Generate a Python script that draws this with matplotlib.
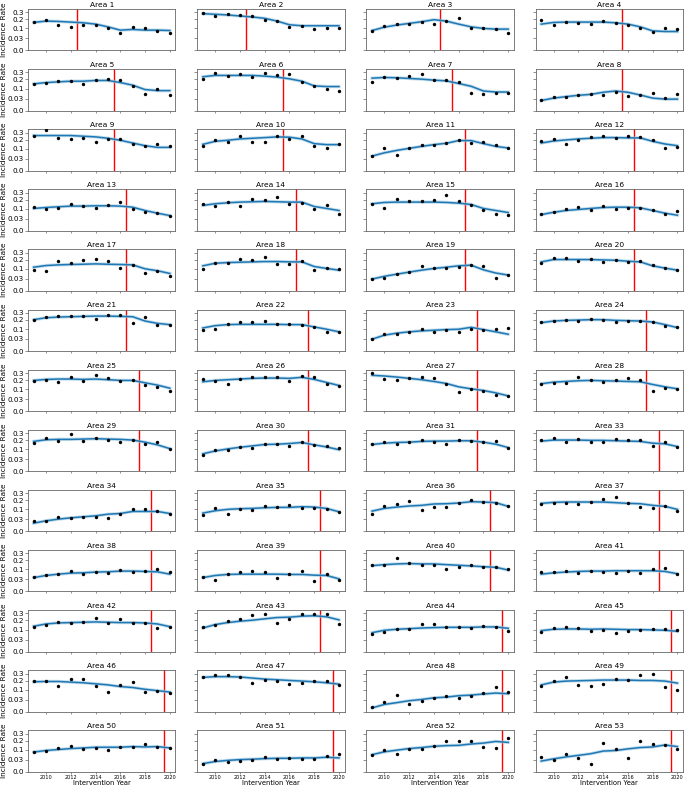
import numpy as np
import matplotlib
matplotlib.use("Agg")
import matplotlib.pyplot as plt

years = [2009, 2010, 2011, 2012, 2013, 2014, 2015, 2016, 2017, 2018, 2019, 2020]
area_ids = [1, 2, 3, 4, 5, 6, 7, 8, 9, 10, 11, 12, 13, 14, 15, 16, 17, 18, 19, 20,
            21, 22, 23, 24, 25, 26, 27, 28, 29, 30, 31, 33, 34, 35, 36, 37, 38, 39, 40, 41,
            42, 43, 44, 45, 46, 47, 48, 49, 50, 51, 52, 53]
intervention_years = [2012.5, 2012.5, 2014.5, 2015.5, 2015.5, 2015.5, 2015.5, 2015.5,
                      2015.5, 2015.5, 2016.5, 2016.5, 2016.5, 2016.5, 2016.5, 2016.5,
                      2016.5, 2016.5, 2016.5, 2016.5, 2016.5, 2017.5, 2017.5, 2017.5,
                      2017.5, 2017.5, 2017.5, 2017.5, 2017.5, 2017.5, 2017.5, 2018.5,
                      2018.5, 2018.5, 2018.5, 2018.5, 2018.5, 2018.5, 2018.5, 2018.5,
                      2018.5, 2018.5, 2019.5, 2019.5, 2019.5, 2019.5, 2019.5, 2019.5,
                      2019.5, 2019.5, 2019.5, 2019.5]
ytick_values = [0.0, 0.03, 0.1, 0.2, 0.3]
ytick_labels = ["0.0", "0.03", "0.1", "0.2", "0.3"]
xtick_values = [2010, 2012, 2014, 2016, 2018, 2020]

area01_obs = [0.162, 0.195, 0.139, 0.109, 0.129, 0.132, 0.105, 0.064, 0.115, 0.105, 0.082, 0.066]
area01_fit = [0.162, 0.178, 0.174, 0.166, 0.158, 0.143, 0.115, 0.085, 0.091, 0.085, 0.085, 0.082]
area02_obs = [0.290, 0.245, 0.275, 0.260, 0.245, 0.191, 0.174, 0.115, 0.122, 0.097, 0.106, 0.103]
area02_fit = [0.280, 0.270, 0.260, 0.245, 0.231, 0.213, 0.178, 0.136, 0.126, 0.126, 0.126, 0.126]
area03_obs = [0.082, 0.119, 0.140, 0.143, 0.170, 0.143, 0.174, 0.213, 0.106, 0.106, 0.097, 0.066]
area03_fit = [0.082, 0.112, 0.133, 0.151, 0.170, 0.195, 0.178, 0.143, 0.115, 0.100, 0.094, 0.094]
area04_obs = [0.191, 0.129, 0.170, 0.151, 0.147, 0.174, 0.158, 0.129, 0.106, 0.071, 0.103, 0.091]
area04_fit = [0.143, 0.162, 0.166, 0.166, 0.166, 0.166, 0.158, 0.143, 0.115, 0.079, 0.074, 0.074]
area05_obs = [0.147, 0.162, 0.178, 0.182, 0.151, 0.191, 0.204, 0.195, 0.129, 0.059, 0.097, 0.052]
area05_fit = [0.147, 0.162, 0.170, 0.178, 0.178, 0.187, 0.187, 0.162, 0.133, 0.091, 0.082, 0.082]
area06_obs = [0.204, 0.285, 0.245, 0.270, 0.236, 0.296, 0.260, 0.275, 0.166, 0.122, 0.094, 0.079]
area06_fit = [0.236, 0.255, 0.255, 0.255, 0.255, 0.245, 0.231, 0.208, 0.178, 0.126, 0.119, 0.119]
area07_obs = [0.170, 0.226, 0.222, 0.250, 0.270, 0.191, 0.187, 0.170, 0.066, 0.059, 0.066, 0.064]
area07_fit = [0.217, 0.226, 0.222, 0.213, 0.204, 0.191, 0.182, 0.151, 0.122, 0.079, 0.071, 0.071]
area08_obs = [0.021, 0.040, 0.036, 0.052, 0.057, 0.052, 0.069, 0.046, 0.050, 0.061, 0.034, 0.054]
area08_fit = [0.021, 0.032, 0.040, 0.048, 0.054, 0.069, 0.079, 0.069, 0.050, 0.032, 0.027, 0.027]
area09_obs = [0.250, 0.339, 0.217, 0.208, 0.222, 0.166, 0.213, 0.204, 0.151, 0.122, 0.143, 0.126]
area09_fit = [0.255, 0.255, 0.255, 0.255, 0.245, 0.236, 0.217, 0.191, 0.158, 0.129, 0.112, 0.112]
area10_obs = [0.129, 0.195, 0.174, 0.255, 0.174, 0.174, 0.245, 0.213, 0.250, 0.122, 0.103, 0.143]
area10_fit = [0.143, 0.178, 0.191, 0.208, 0.217, 0.226, 0.236, 0.231, 0.208, 0.151, 0.140, 0.140]
area11_obs = [0.044, 0.106, 0.048, 0.106, 0.133, 0.140, 0.155, 0.195, 0.158, 0.170, 0.136, 0.106]
area11_fit = [0.044, 0.066, 0.085, 0.103, 0.122, 0.140, 0.155, 0.187, 0.187, 0.151, 0.122, 0.106]
area12_obs = [0.178, 0.204, 0.147, 0.195, 0.240, 0.255, 0.226, 0.255, 0.236, 0.199, 0.106, 0.112]
area12_fit = [0.158, 0.182, 0.195, 0.208, 0.217, 0.226, 0.226, 0.222, 0.222, 0.178, 0.147, 0.129]
area13_obs = [0.115, 0.100, 0.112, 0.151, 0.122, 0.106, 0.140, 0.166, 0.100, 0.071, 0.069, 0.046]
area13_fit = [0.103, 0.112, 0.119, 0.126, 0.126, 0.129, 0.129, 0.126, 0.115, 0.085, 0.064, 0.048]
area14_obs = [0.143, 0.129, 0.170, 0.122, 0.208, 0.199, 0.236, 0.147, 0.162, 0.100, 0.133, 0.059]
area14_fit = [0.133, 0.151, 0.162, 0.170, 0.174, 0.178, 0.174, 0.170, 0.170, 0.122, 0.103, 0.085]
area15_obs = [0.151, 0.106, 0.213, 0.178, 0.187, 0.191, 0.265, 0.178, 0.136, 0.091, 0.059, 0.054]
area15_fit = [0.151, 0.166, 0.170, 0.170, 0.170, 0.170, 0.166, 0.158, 0.143, 0.103, 0.085, 0.069]
area16_obs = [0.057, 0.074, 0.100, 0.115, 0.091, 0.122, 0.097, 0.103, 0.109, 0.091, 0.059, 0.085]
area16_fit = [0.054, 0.071, 0.085, 0.094, 0.103, 0.112, 0.115, 0.115, 0.109, 0.085, 0.064, 0.050]
area17_obs = [0.092, 0.081, 0.182, 0.162, 0.203, 0.211, 0.186, 0.113, 0.140, 0.066, 0.081, 0.048]
area17_fit = [0.116, 0.133, 0.140, 0.144, 0.147, 0.151, 0.147, 0.144, 0.140, 0.101, 0.084, 0.063]
area18_obs = [0.098, 0.162, 0.166, 0.216, 0.198, 0.234, 0.155, 0.147, 0.182, 0.089, 0.107, 0.098]
area18_fit = [0.130, 0.158, 0.166, 0.170, 0.174, 0.178, 0.178, 0.174, 0.174, 0.123, 0.104, 0.089]
area19_obs = [0.029, 0.032, 0.061, 0.073, 0.130, 0.107, 0.107, 0.123, 0.144, 0.130, 0.036, 0.052]
area19_fit = [0.029, 0.044, 0.058, 0.073, 0.089, 0.104, 0.116, 0.130, 0.137, 0.092, 0.066, 0.052]
area20_obs = [0.166, 0.220, 0.220, 0.186, 0.216, 0.170, 0.198, 0.170, 0.182, 0.137, 0.107, 0.089]
area20_fit = [0.174, 0.203, 0.203, 0.203, 0.203, 0.198, 0.194, 0.182, 0.174, 0.130, 0.107, 0.089]
area21_obs = [0.203, 0.243, 0.252, 0.248, 0.252, 0.216, 0.272, 0.267, 0.166, 0.243, 0.140, 0.140]
area21_fit = [0.203, 0.229, 0.238, 0.243, 0.248, 0.252, 0.252, 0.248, 0.243, 0.186, 0.158, 0.144]
area22_obs = [0.089, 0.104, 0.151, 0.170, 0.170, 0.190, 0.151, 0.147, 0.137, 0.116, 0.073, 0.076]
area22_fit = [0.110, 0.133, 0.144, 0.147, 0.147, 0.147, 0.147, 0.144, 0.144, 0.120, 0.098, 0.076]
area23_obs = [0.028, 0.063, 0.063, 0.078, 0.104, 0.078, 0.095, 0.078, 0.098, 0.089, 0.098, 0.107]
area23_fit = [0.029, 0.052, 0.066, 0.076, 0.084, 0.089, 0.095, 0.098, 0.116, 0.095, 0.076, 0.058]
area24_obs = [0.174, 0.190, 0.198, 0.182, 0.216, 0.198, 0.170, 0.182, 0.182, 0.170, 0.126, 0.120]
area24_fit = [0.166, 0.186, 0.194, 0.198, 0.203, 0.203, 0.194, 0.190, 0.186, 0.174, 0.144, 0.113]
area25_obs = [0.191, 0.204, 0.174, 0.236, 0.191, 0.275, 0.222, 0.187, 0.199, 0.140, 0.122, 0.088]
area25_fit = [0.195, 0.208, 0.213, 0.213, 0.208, 0.213, 0.204, 0.195, 0.195, 0.166, 0.140, 0.109]
area26_obs = [0.208, 0.191, 0.155, 0.213, 0.236, 0.245, 0.245, 0.187, 0.260, 0.240, 0.147, 0.133]
area26_fit = [0.178, 0.195, 0.204, 0.213, 0.222, 0.226, 0.226, 0.222, 0.236, 0.208, 0.170, 0.136]
area27_obs = [0.296, 0.208, 0.204, 0.231, 0.236, 0.222, 0.155, 0.079, 0.097, 0.082, 0.052, 0.050]
area27_fit = [0.265, 0.255, 0.240, 0.222, 0.204, 0.182, 0.158, 0.122, 0.103, 0.088, 0.069, 0.048]
area28_obs = [0.155, 0.162, 0.162, 0.236, 0.199, 0.174, 0.199, 0.226, 0.195, 0.088, 0.112, 0.103]
area28_fit = [0.155, 0.174, 0.182, 0.191, 0.195, 0.191, 0.187, 0.182, 0.178, 0.147, 0.122, 0.103]
area29_obs = [0.163, 0.233, 0.184, 0.283, 0.188, 0.224, 0.205, 0.179, 0.201, 0.148, 0.175, 0.103]
area29_fit = [0.184, 0.205, 0.210, 0.210, 0.214, 0.219, 0.214, 0.210, 0.201, 0.175, 0.144, 0.106]
area30_obs = [0.058, 0.093, 0.096, 0.126, 0.112, 0.155, 0.151, 0.129, 0.171, 0.144, 0.133, 0.109]
area30_fit = [0.063, 0.085, 0.103, 0.119, 0.133, 0.148, 0.151, 0.159, 0.171, 0.144, 0.122, 0.096]
area31_obs = [0.148, 0.171, 0.151, 0.179, 0.197, 0.179, 0.159, 0.205, 0.184, 0.175, 0.184, 0.116]
area31_fit = [0.148, 0.163, 0.171, 0.175, 0.184, 0.188, 0.188, 0.192, 0.192, 0.175, 0.151, 0.116]
area33_obs = [0.201, 0.228, 0.171, 0.210, 0.179, 0.179, 0.214, 0.201, 0.201, 0.129, 0.171, 0.119]
area33_fit = [0.188, 0.201, 0.201, 0.201, 0.197, 0.197, 0.192, 0.188, 0.184, 0.163, 0.155, 0.126]
area34_obs = [0.024, 0.021, 0.040, 0.036, 0.040, 0.044, 0.036, 0.061, 0.106, 0.106, 0.085, 0.066]
area34_fit = [0.014, 0.023, 0.031, 0.038, 0.044, 0.050, 0.061, 0.066, 0.082, 0.082, 0.082, 0.066]
area35_obs = [0.057, 0.115, 0.066, 0.106, 0.097, 0.133, 0.119, 0.147, 0.115, 0.115, 0.103, 0.077]
area35_fit = [0.069, 0.088, 0.100, 0.106, 0.109, 0.115, 0.119, 0.119, 0.126, 0.122, 0.109, 0.079]
area36_obs = [0.066, 0.129, 0.158, 0.187, 0.097, 0.122, 0.122, 0.170, 0.199, 0.182, 0.170, 0.129]
area36_fit = [0.085, 0.109, 0.122, 0.133, 0.140, 0.155, 0.158, 0.166, 0.182, 0.178, 0.170, 0.129]
area37_obs = [0.155, 0.166, 0.166, 0.158, 0.178, 0.217, 0.245, 0.170, 0.122, 0.112, 0.129, 0.088]
area37_fit = [0.162, 0.174, 0.178, 0.178, 0.178, 0.178, 0.170, 0.162, 0.158, 0.140, 0.129, 0.100]
area38_obs = [0.044, 0.053, 0.062, 0.083, 0.065, 0.080, 0.070, 0.095, 0.075, 0.083, 0.101, 0.080]
area38_fit = [0.040, 0.053, 0.062, 0.070, 0.072, 0.078, 0.080, 0.086, 0.086, 0.083, 0.080, 0.062]
area39_obs = [0.042, 0.029, 0.065, 0.075, 0.083, 0.075, 0.038, 0.065, 0.083, 0.023, 0.060, 0.028]
area39_fit = [0.040, 0.053, 0.060, 0.062, 0.062, 0.062, 0.062, 0.060, 0.060, 0.055, 0.053, 0.033]
area40_obs = [0.142, 0.142, 0.225, 0.165, 0.142, 0.142, 0.107, 0.127, 0.145, 0.127, 0.121, 0.101]
area40_fit = [0.138, 0.149, 0.157, 0.161, 0.157, 0.157, 0.149, 0.142, 0.135, 0.127, 0.121, 0.095]
area41_obs = [0.080, 0.075, 0.086, 0.067, 0.083, 0.078, 0.072, 0.086, 0.072, 0.101, 0.114, 0.065]
area41_fit = [0.062, 0.072, 0.078, 0.083, 0.086, 0.086, 0.089, 0.089, 0.089, 0.089, 0.083, 0.065]
area42_obs = [0.129, 0.147, 0.178, 0.170, 0.187, 0.240, 0.170, 0.217, 0.170, 0.166, 0.119, 0.122]
area42_fit = [0.133, 0.158, 0.170, 0.174, 0.178, 0.182, 0.178, 0.174, 0.174, 0.170, 0.158, 0.129]
area43_obs = [0.122, 0.147, 0.195, 0.213, 0.275, 0.285, 0.170, 0.222, 0.290, 0.290, 0.285, 0.162]
area43_fit = [0.115, 0.151, 0.174, 0.191, 0.204, 0.222, 0.240, 0.245, 0.260, 0.265, 0.250, 0.208]
area44_obs = [0.061, 0.082, 0.106, 0.103, 0.155, 0.155, 0.129, 0.122, 0.119, 0.136, 0.122, 0.085]
area44_fit = [0.074, 0.094, 0.103, 0.109, 0.115, 0.119, 0.122, 0.122, 0.122, 0.126, 0.126, 0.112]
area45_obs = [0.079, 0.119, 0.126, 0.115, 0.085, 0.100, 0.071, 0.091, 0.100, 0.109, 0.109, 0.097]
area45_fit = [0.091, 0.103, 0.106, 0.106, 0.103, 0.106, 0.103, 0.100, 0.100, 0.097, 0.094, 0.085]
area46_obs = [0.194, 0.194, 0.138, 0.220, 0.220, 0.135, 0.083, 0.145, 0.185, 0.078, 0.092, 0.070]
area46_fit = [0.185, 0.189, 0.189, 0.181, 0.173, 0.161, 0.149, 0.131, 0.121, 0.104, 0.092, 0.080]
area47_obs = [0.244, 0.279, 0.284, 0.249, 0.173, 0.211, 0.194, 0.161, 0.169, 0.194, 0.198, 0.145]
area47_fit = [0.244, 0.254, 0.254, 0.249, 0.234, 0.220, 0.211, 0.202, 0.194, 0.185, 0.173, 0.157]
area48_obs = [0.005, 0.020, 0.057, 0.012, 0.023, 0.038, 0.053, 0.040, 0.053, 0.070, 0.127, 0.078]
area48_fit = [0.003, 0.011, 0.017, 0.025, 0.031, 0.040, 0.044, 0.053, 0.057, 0.065, 0.072, 0.067]
area49_obs = [0.142, 0.189, 0.254, 0.145, 0.138, 0.157, 0.216, 0.202, 0.274, 0.300, 0.127, 0.101]
area49_fit = [0.149, 0.181, 0.194, 0.198, 0.202, 0.207, 0.207, 0.207, 0.202, 0.202, 0.194, 0.169]
area50_obs = [0.081, 0.089, 0.118, 0.142, 0.106, 0.115, 0.097, 0.125, 0.128, 0.156, 0.132, 0.118]
area50_fit = [0.081, 0.094, 0.103, 0.112, 0.118, 0.125, 0.125, 0.125, 0.132, 0.128, 0.132, 0.118]
area51_obs = [0.014, 0.031, 0.020, 0.024, 0.031, 0.044, 0.036, 0.038, 0.036, 0.035, 0.050, 0.065]
area51_fit = [0.014, 0.022, 0.027, 0.031, 0.033, 0.036, 0.038, 0.038, 0.040, 0.040, 0.044, 0.040]
area52_obs = [0.061, 0.100, 0.063, 0.109, 0.109, 0.135, 0.199, 0.199, 0.199, 0.132, 0.115, 0.239]
area52_fit = [0.061, 0.083, 0.097, 0.112, 0.122, 0.135, 0.142, 0.145, 0.160, 0.171, 0.191, 0.179]
area53_obs = [0.044, 0.030, 0.068, 0.042, 0.014, 0.175, 0.106, 0.038, 0.195, 0.156, 0.149, 0.106]
area53_fit = [0.024, 0.035, 0.046, 0.056, 0.068, 0.089, 0.094, 0.109, 0.122, 0.128, 0.149, 0.132]

observed = [area01_obs, area02_obs, area03_obs, area04_obs, area05_obs, area06_obs, area07_obs,
            area08_obs, area09_obs, area10_obs, area11_obs, area12_obs, area13_obs, area14_obs,
            area15_obs, area16_obs, area17_obs, area18_obs, area19_obs, area20_obs, area21_obs,
            area22_obs, area23_obs, area24_obs, area25_obs, area26_obs, area27_obs, area28_obs,
            area29_obs, area30_obs, area31_obs, area33_obs, area34_obs, area35_obs, area36_obs,
            area37_obs, area38_obs, area39_obs, area40_obs, area41_obs, area42_obs, area43_obs,
            area44_obs, area45_obs, area46_obs, area47_obs, area48_obs, area49_obs, area50_obs,
            area51_obs, area52_obs, area53_obs]
fitted = [area01_fit, area02_fit, area03_fit, area04_fit, area05_fit, area06_fit, area07_fit,
          area08_fit, area09_fit, area10_fit, area11_fit, area12_fit, area13_fit, area14_fit,
          area15_fit, area16_fit, area17_fit, area18_fit, area19_fit, area20_fit, area21_fit,
          area22_fit, area23_fit, area24_fit, area25_fit, area26_fit, area27_fit, area28_fit,
          area29_fit, area30_fit, area31_fit, area33_fit, area34_fit, area35_fit, area36_fit,
          area37_fit, area38_fit, area39_fit, area40_fit, area41_fit, area42_fit, area43_fit,
          area44_fit, area45_fit, area46_fit, area47_fit, area48_fit, area49_fit, area50_fit,
          area51_fit, area52_fit, area53_fit]

plt.rcParams['font.family'] = ['DejaVu Sans']

nrows, ncols = 13, 4
fig, axes = plt.subplots(nrows, ncols, figsize=(6.85, 7.88), dpi=100, sharex=True, sharey=True)
fig.subplots_adjust(left=0.041, right=0.997, top=0.9886, bottom=0.0205,
                    hspace=0.45, wspace=0.149)

fwd = lambda v: np.sqrt(np.clip(v, 0, None))
inv = lambda v: np.square(v)

for i, ax in enumerate(axes.flat):
    aid = area_ids[i]
    ax.set_yscale('function', functions=(fwd, inv))
    ax.plot(years, fitted[i], color='#9ecae1', lw=2.4, alpha=0.6, zorder=2)
    ax.plot(years, fitted[i], color='#1f77b4', lw=1.1, zorder=3)
    ax.scatter(years, observed[i], s=6, color='black', zorder=4, linewidths=0)
    ax.axvline(intervention_years[i], color='red', lw=1.0, zorder=1)
    ax.set_title(f"Area {aid}", fontsize=5.4, pad=1.5)
    for sp in ax.spines.values():
        sp.set_linewidth(0.6)
        sp.set_color('#666666')
    ax.tick_params(axis='y', length=2, width=0.5, color='#666666', pad=1, labelsize=5.2)
    ax.tick_params(axis='x', length=1.5, width=0.5, color='#666666', pad=0.8, labelsize=3.6)
    if i % ncols == 0:
        ax.set_ylabel("Incidence Rate", fontsize=5.3, labelpad=0.8)
    if i // ncols == nrows - 1:
        ax.set_xlabel("Intervention Year", fontsize=4.9, labelpad=0.2)

ax0 = axes[0, 0]
ax0.set_ylim(0, 0.355)
ax0.set_yticks(ytick_values)
ax0.set_yticklabels(ytick_labels)
ax0.set_xticks(xtick_values)
ax0.set_xlim(2008.55, 2020.45)

fig.savefig("out.png", dpi=100)
